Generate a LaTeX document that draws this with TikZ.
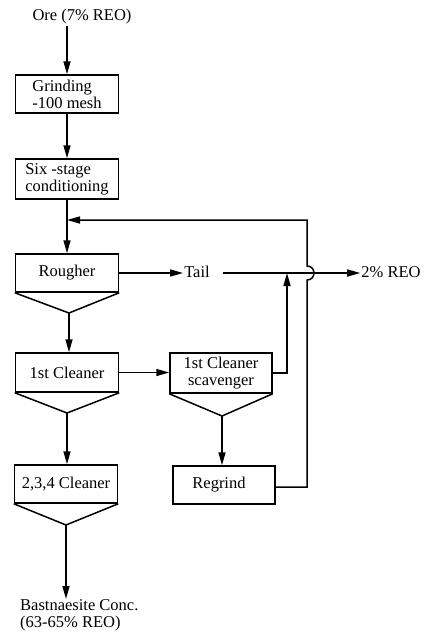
\documentclass[tikz,border=0pt]{standalone}
\usepackage{fontspec}
\setmainfont{Liberation Serif}
\usetikzlibrary{arrows.meta,calc}
\begin{document}
\begin{tikzpicture}[x=1pt,y=-1pt,
  every node/.style={font=\fontsize{16.5}{17}\selectfont},
  ln/.style={line width=1.5pt},
  arr/.style={ln,-{Triangle[length=13pt,width=7pt]}},
  box/.style={draw,ln,minimum width=103pt,minimum height=38pt,inner sep=0pt,align=left},
  lbl/.style={inner sep=1pt,align=left}]
\useasboundingbox (0,0) rectangle (424,633);
% nodes
\node[lbl] (ore) at (82,17) {Ore (7\% REO)};
\node[box] (grind) at (67,94) {Grinding\\-100 mesh};
\node[box,minimum height=40pt] (six) at (67,179) {Six -stage\\conditioning};
\node[box] (rough) at (67,273) {Rougher};
\coordinate (roughtip) at (69,313);
\node[box,minimum height=39pt] (clean1) at (67,372.5) {1st Cleaner};
\coordinate (clean1tip) at (67,413);
\node[box] (c234) at (66,484) {2,3,4 Cleaner};
\coordinate (c234tip) at (66,525);
\node[box,minimum width=102pt,minimum height=40pt,align=center] (scav) at (221,373) {1st Cleaner\\scavenger};
\coordinate (scavtip) at (222,416);
\node[box,minimum width=102pt] (regrind) at (224,485) {\hspace*{-10pt}Regrind};
\node[lbl] (tail) at (197,272) {Tail};
\node[lbl] (reo) at (391,272) {2\% REO};
\node[lbl,anchor=north west,inner sep=0pt] (bast) at (20,599) {Bastnaesite Conc.\\(63-65\% REO)};
% cone bottoms
\draw[ln] (rough.south west) -- (roughtip) -- (rough.south east);
\draw[ln] (clean1.south west) -- (clean1tip) -- (clean1.south east);
\draw[ln] (c234.south west) -- (c234tip) -- (c234.south east);
\draw[ln] (scav.south west) -- (scavtip) -- (scav.south east);
% coordinates
\coordinate (join) at (67,220);
\coordinate (tailout) at (223,273);
\coordinate (merge) at (287,273);
\coordinate (fbA) at (307,487);
\coordinate (fbB) at (307,280);
\coordinate (fbC) at (307,266);
\coordinate (fbD) at (307,220);
% connectors
\draw[arr] (grind.north |- ore.south) -- (grind.north);
\draw[arr] (grind.south) -- (six.north);
\draw[arr] (six.south) -- (rough.north);
\draw[arr] (rough.east |- tailout) -- (tailout -| tail.west);
\draw[arr] (tailout) -- (tailout -| reo.west);
\draw[arr] (roughtip) -- (roughtip |- clean1.north);
\draw[arr] (clean1.east) -- (clean1.east -| scav.west);
\draw[arr] (clean1tip) -- (clean1tip |- c234.north);
\draw[arr] (c234tip) -- (c234tip |- bast.north);
\draw[arr] (scavtip) -- (scavtip |- regrind.north);
\draw[arr] (scav.east) -| (merge);
\draw[arr] (regrind.east |- fbA) -- (fbA) -- (fbB)
   .. controls ($(fbB)+(9.3,0)$) and ($(fbC)+(9.3,0)$) .. (fbC)
   -- (fbD) -- (join);
\end{tikzpicture}
\end{document}
